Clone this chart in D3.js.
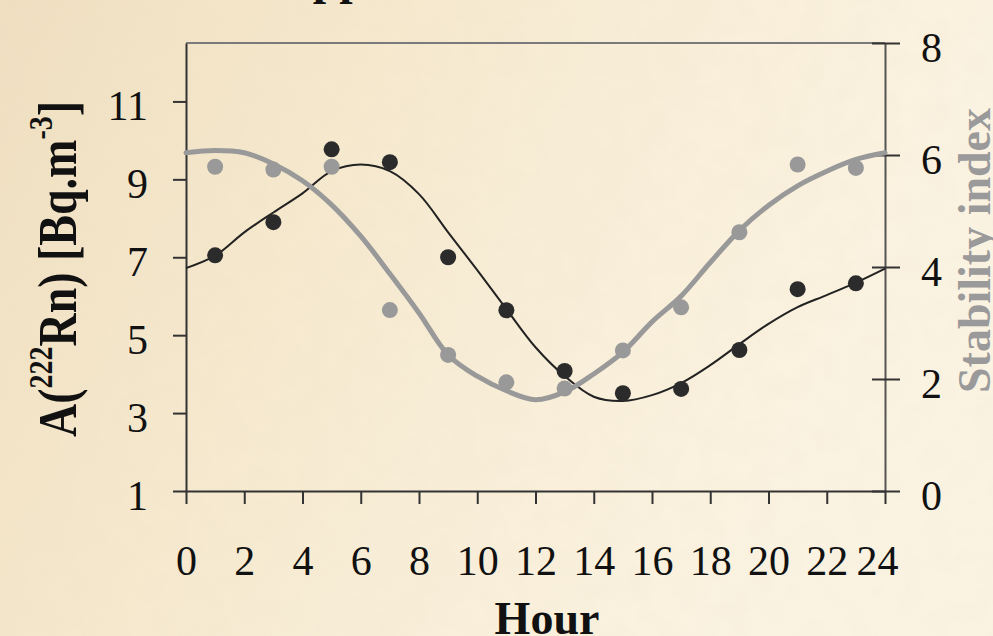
<!DOCTYPE html>
<html>
<head>
<meta charset="utf-8">
<script src="https://cdn.jsdelivr.net/npm/d3@7"></script>
<style>
  html, body { margin: 0; padding: 0; }
  body { width: 993px; height: 636px; overflow: hidden; }
  text { font-family: "Liberation Serif", "Times New Roman", serif; }
</style>
</head>
<body>
<div id="chart"></div>
<script>
// ----------- DATA ------------
const obsHours = [1, 3, 5, 7, 9, 11, 13, 15, 17, 19, 21, 23];
const radonObs = [7.05, 7.9, 9.77, 9.44, 7.0, 5.64, 4.08, 3.51, 3.62, 4.62, 6.18, 6.33];
const stabilityObs = [5.79, 5.74, 5.79, 3.23, 2.43, 1.94, 1.83, 2.51, 3.28, 4.62, 5.83, 5.77];

const fitHours = [0, 1, 2, 3, 4, 5, 6, 7, 8, 9, 10, 11, 12, 13, 14, 15, 16, 17, 18, 19, 20, 21, 22, 23, 24];
const radonFit = [6.72, 7.04, 7.64, 8.15, 8.64, 9.21, 9.38, 9.21, 8.62, 7.64, 6.67, 5.67, 4.69,
  3.95, 3.42, 3.31, 3.46, 3.77, 4.23, 4.77, 5.29, 5.72, 6.03, 6.35, 6.71];
const stabilityFit = [6.04, 6.08, 6.04, 5.84, 5.54, 5.11, 4.55, 3.88, 3.18, 2.43, 2.05, 1.79, 1.63,
  1.77, 2.09, 2.48, 3.02, 3.48, 4.08, 4.65, 5.1, 5.45, 5.71, 5.92, 6.04];

const xTicks = [0, 2, 4, 6, 8, 10, 12, 14, 16, 18, 20, 22, 24];
const leftTicks = [1, 3, 5, 7, 9, 11];
const rightTicks = [0, 2, 4, 6, 8];

// ----------- SVG ------------
const W = 993, H = 636;
const margin = { left: 186, right: 108, top: 43, bottom: 145 };
const cw = W - margin.left - margin.right;
const ch = H - margin.top - margin.bottom;

const svg = d3.select('#chart').append('svg').attr('width', W).attr('height', H);
const defs = svg.append('defs');

// parchment background
const grad = defs.append('linearGradient').attr('id', 'bg').attr('x1', 0).attr('x2', 1).attr('y1', 0).attr('y2', 0.3);
grad.append('stop').attr('offset', '0%').attr('stop-color', '#f0dfc0');
grad.append('stop').attr('offset', '35%').attr('stop-color', '#f5e8cd');
grad.append('stop').attr('offset', '70%').attr('stop-color', '#f9efda');
grad.append('stop').attr('offset', '100%').attr('stop-color', '#fbf3e2');

const filt = defs.append('filter').attr('id', 'paper').attr('x', 0).attr('y', 0).attr('width', 1).attr('height', 1);
filt.append('feTurbulence').attr('type', 'fractalNoise').attr('baseFrequency', 0.04)
  .attr('numOctaves', 3).attr('seed', 7).attr('result', 'n');
filt.append('feColorMatrix').attr('in', 'n').attr('type', 'matrix')
  .attr('values', '0 0 0 0 0.82  0 0 0 0 0.74  0 0 0 0 0.58  0 0 0 0.5 -0.2');

svg.append('rect').attr('width', W).attr('height', H).attr('fill', 'url(#bg)');
svg.append('rect').attr('width', W).attr('height', H).attr('filter', 'url(#paper)').attr('opacity', 0.5);

// partially visible title at the top
svg.append('text')
  .attr('x', 278).attr('y', -6)
  .style('font-size', '48px').style('font-weight', 'bold').attr('fill', '#111')
  .text('Upper');

const g = svg.append('g').attr('transform', `translate(${margin.left}, ${margin.top})`);

// ----------- SCALES ------------
const x = d3.scaleLinear().domain([0, 24]).range([0, cw]);
const yL = d3.scaleLinear().domain([1, 12.5]).range([ch, 0]);
const yR = d3.scaleLinear().domain([0, 8]).range([ch, 0]);

// top border
g.append('line').attr('x1', 0).attr('x2', cw).attr('y1', 0).attr('y2', 0)
  .attr('stroke', '#7a7a7a').attr('stroke-width', 2);

// ----------- AXES ------------
const axB = g.append('g').attr('transform', `translate(0, ${ch})`)
  .call(d3.axisBottom(x).tickValues(xTicks).tickSize(13).tickPadding(0).tickSizeOuter(0));
axB.selectAll('text').attr('y', 84).attr('dy', 0)
  .attr('dx', (d) => (d === 24 ? -8 : 0));

const axL = g.append('g')
  .call(d3.axisLeft(yL).tickValues(leftTicks).tickSize(13).tickPadding(25).tickSizeOuter(0));
axL.selectAll('text').attr('dy', '0.43em');

const axR = g.append('g').attr('transform', `translate(${cw}, 0)`)
  .call(d3.axisRight(yR).tickValues(rightTicks).tickSize(15).tickPadding(21).tickSizeOuter(0));
axR.selectAll('.tick line').attr('x1', -13);
axR.selectAll('text').attr('dy', '0.43em');

[axB, axL, axR].forEach((a) => {
  a.selectAll('text').style('font-size', '42px').attr('fill', '#111')
    .style('font-family', '"Liberation Serif", "Times New Roman", serif');
  a.selectAll('line').attr('stroke', '#333').attr('stroke-width', 2);
  a.select('.domain').attr('stroke', '#333').attr('stroke-width', 2);
});
axR.select('.domain').attr('stroke', '#555');

// axis titles
g.append('text')
  .attr('transform', `translate(${76 - margin.left}, ${269 - margin.top}) rotate(-90) scale(1, 1.2)`)
  .attr('text-anchor', 'middle')
  .style('font-size', '46px').style('font-weight', 'bold').attr('fill', '#111')
  .call((t) => {
    t.append('tspan').text('A(');
    t.append('tspan').attr('dy', -20).style('font-size', '28px').text('222');
    t.append('tspan').attr('dy', 20).text('Rn) [Bq.m');
    t.append('tspan').attr('dy', -20).style('font-size', '28px').text('-3');
    t.append('tspan').attr('dy', 20).text(']');
  });

g.append('text')
  .attr('transform', `translate(${990 - margin.left}, ${393 - margin.top}) rotate(-90)`)
  .attr('text-anchor', 'start')
  .style('font-size', '46px').style('font-weight', 'bold').attr('fill', '#9a9a9a')
  .text('Stability index');

g.append('text')
  .attr('x', 547 - margin.left).attr('y', 634 - margin.top)
  .attr('text-anchor', 'middle')
  .style('font-size', '46px').style('font-weight', 'bold').attr('fill', '#111')
  .text('Hour');

// ----------- LINES ------------
const radonLine = d3.line()
  .x((d, i) => x(fitHours[i]))
  .y((d) => yL(d))
  .curve(d3.curveCatmullRom);

const stabLine = d3.line()
  .x((d, i) => x(fitHours[i]))
  .y((d) => yR(d))
  .curve(d3.curveCatmullRom);

g.append('path').attr('d', radonLine(radonFit))
  .attr('fill', 'none').attr('stroke', '#222').attr('stroke-width', 2);

g.append('path').attr('d', stabLine(stabilityFit))
  .attr('fill', 'none').attr('stroke', '#999').attr('stroke-width', 5)
  .attr('stroke-linecap', 'round');

// ----------- POINTS ------------
g.selectAll('.radon')
  .data(radonObs)
  .enter()
  .append('circle')
  .attr('class', 'radon')
  .attr('cx', (d, i) => x(obsHours[i]))
  .attr('cy', (d) => yL(d))
  .attr('r', 8)
  .attr('fill', '#2b2b2b');

g.selectAll('.stab')
  .data(stabilityObs)
  .enter()
  .append('circle')
  .attr('class', 'stab')
  .attr('cx', (d, i) => x(obsHours[i]))
  .attr('cy', (d) => yR(d))
  .attr('r', 8)
  .attr('fill', '#999');
</script>
</body>
</html>
